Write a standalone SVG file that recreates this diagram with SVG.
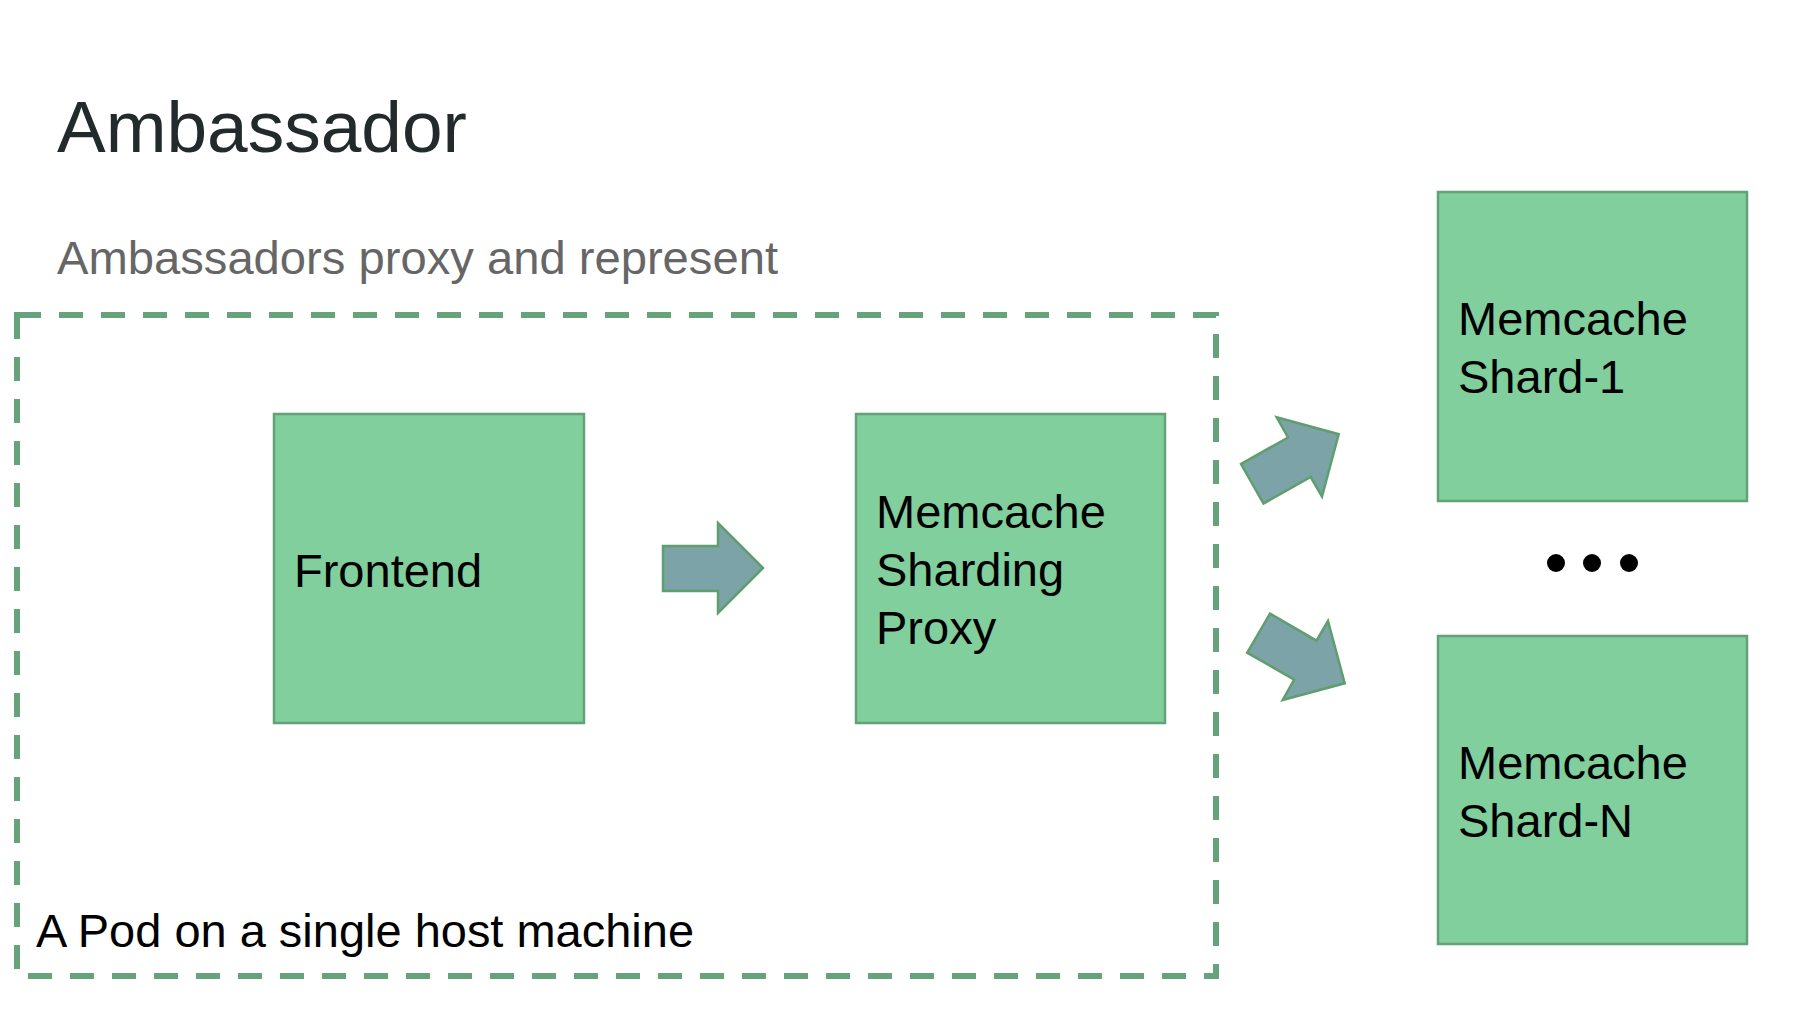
<svg xmlns="http://www.w3.org/2000/svg" width="1802" height="1012" viewBox="0 0 1802 1012">
  <style>
    .box { fill: #81cf9d; stroke: #63a177; stroke-width: 2.5; }
    .lbl { font-family: "Liberation Sans", Arial, sans-serif; font-size: 47px; fill: #000000; }
    .arrow { fill: #7ba3a8; stroke: #5f9e6e; stroke-width: 2.5; stroke-linejoin: miter; }
    .pod { fill: none; stroke: #66a37a; stroke-width: 6; stroke-dasharray: 24 18; }
  </style>
  <rect x="0" y="0" width="1802" height="1012" fill="#ffffff"/>

  <text x="57" y="152" font-family="Liberation Sans, Arial, sans-serif" font-size="73" fill="#222a2c">Ambassador</text>
  <text x="57" y="274" font-family="Liberation Sans, Arial, sans-serif" font-size="47" fill="#666666" textLength="721" lengthAdjust="spacingAndGlyphs">Ambassadors proxy and represent</text>

  <g id="pod">
    <rect class="pod" x="17" y="315" width="1199" height="661"/>
    <text class="lbl" x="36" y="947" textLength="658" lengthAdjust="spacingAndGlyphs">A Pod on a single host machine</text>
  </g>

  <g id="frontend">
    <rect class="box" x="274" y="414" width="310" height="309"/>
    <text class="lbl" x="294" y="587">Frontend</text>
  </g>

  <g id="proxy">
    <rect class="box" x="856" y="414" width="309" height="309"/>
    <text class="lbl" x="876" y="528">Memcache</text>
    <text class="lbl" x="876" y="586">Sharding</text>
    <text class="lbl" x="876" y="644">Proxy</text>
  </g>

  <g id="shard1">
    <rect class="box" x="1438" y="192" width="309" height="309"/>
    <text class="lbl" x="1458" y="335">Memcache</text>
    <text class="lbl" x="1458" y="393">Shard-1</text>
  </g>

  <g id="ellipsis">
    <circle cx="1556" cy="563" r="9" fill="#000000"/>
    <circle cx="1592" cy="563" r="9" fill="#000000"/>
    <circle cx="1629" cy="563" r="9" fill="#000000"/>
  </g>

  <g id="shardN">
    <rect class="box" x="1438" y="636" width="309" height="308"/>
    <text class="lbl" x="1458" y="779">Memcache</text>
    <text class="lbl" x="1458" y="837">Shard-N</text>
  </g>

  <g id="connectors">
    <polygon class="arrow" points="663,546 718,546 718,523 763,568 718,613 718,591 663,591"/>
    <polygon class="arrow" points="1241,464 1263.5,503.5 1310.7,477 1322,496.5 1338.7,434.2 1276.7,417.3 1288,437.5"/>
    <polygon class="arrow" points="1270,613.6 1316.5,640.7 1328,621 1344.7,683.3 1282.7,700 1294.2,679.6 1247.2,652.7"/>
  </g>
</svg>
